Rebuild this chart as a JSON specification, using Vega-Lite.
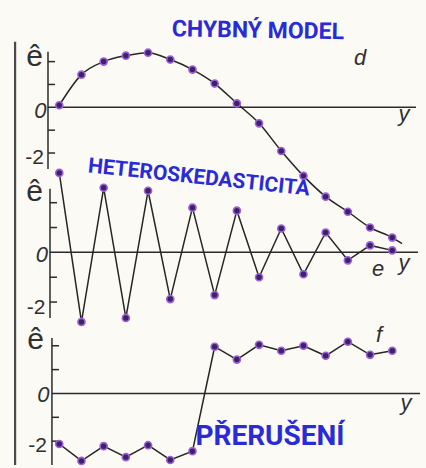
{
"$schema":"https://vega.github.io/schema/vega-lite/v6.json",
"width":426,"height":468,"padding":0,
"autosize":{"type":"fit","contains":"padding"},
"background":"#fbfaf5",
"config":{"view":{"stroke":null}},
"datasets":{
"dpts":[{"i":0,"v":0.09,"dot":true},{"i":1,"v":1.43,"dot":true},{"i":2,"v":2.0,"dot":true},{"i":3,"v":2.26,"dot":true},{"i":4,"v":2.39,"dot":true},{"i":5,"v":2.09,"dot":true},{"i":6,"v":1.65,"dot":true},{"i":7,"v":1.04,"dot":true},{"i":8,"v":0.17,"dot":true},{"i":9,"v":-0.70,"dot":true},{"i":10,"v":-1.91,"dot":true},{"i":11,"v":-3.0,"dot":true},{"i":12,"v":-3.91,"dot":true},{"i":13,"v":-4.57,"dot":true},{"i":14,"v":-5.26,"dot":true},{"i":15,"v":-5.70,"dot":true},{"i":15.44,"v":-5.96,"dot":false}],
"epts":[{"i":0,"v":3.2,"dot":true},{"i":1,"v":-2.8,"dot":true},{"i":2,"v":2.6,"dot":true},{"i":3,"v":-2.64,"dot":true},{"i":4,"v":2.48,"dot":true},{"i":5,"v":-1.88,"dot":true},{"i":6,"v":1.8,"dot":true},{"i":7,"v":-1.72,"dot":true},{"i":8,"v":1.68,"dot":true},{"i":9,"v":-1.0,"dot":true},{"i":10,"v":0.96,"dot":true},{"i":11,"v":-0.88,"dot":true},{"i":12,"v":0.8,"dot":true},{"i":13,"v":-0.32,"dot":true},{"i":14,"v":0.28,"dot":true},{"i":15,"v":0.08,"dot":true}],
"fpts":[{"i":-0.19,"v":-2.08,"dot":false},{"i":0,"v":-2.12,"dot":true},{"i":1,"v":-2.83,"dot":true},{"i":2,"v":-2.21,"dot":true},{"i":3,"v":-2.67,"dot":true},{"i":4,"v":-2.17,"dot":true},{"i":5,"v":-2.79,"dot":true},{"i":6,"v":-2.42,"dot":true},{"i":7,"v":1.96,"dot":true},{"i":8,"v":1.42,"dot":true},{"i":9,"v":2.04,"dot":true},{"i":10,"v":1.79,"dot":true},{"i":11,"v":2.0,"dot":true},{"i":12,"v":1.58,"dot":true},{"i":13,"v":2.17,"dot":true},{"i":14,"v":1.62,"dot":true},{"i":15,"v":1.79,"dot":true}],
"rules":[
{"p":"border","x":-1.99,"x2":-1.99,"y":2.87,"y2":-15.65},
{"p":"d","x":-0.508,"x2":-0.508,"y":2.43,"y2":-2.7},
{"p":"d","x":-0.508,"x2":-0.19,"y":2,"y2":2},
{"p":"d","x":-0.508,"x2":-0.19,"y":1,"y2":1},
{"p":"d","x":-0.508,"x2":-0.19,"y":-1,"y2":-1},
{"p":"d","x":-0.508,"x2":-0.19,"y":-2,"y2":-2},
{"p":"d","x":-0.508,"x2":16.07,"y":0,"y2":0},
{"p":"e","x":-0.418,"x2":-0.418,"y":2.56,"y2":-2.64},
{"p":"e","x":-0.418,"x2":-0.1,"y":2,"y2":2},
{"p":"e","x":-0.418,"x2":-0.1,"y":1,"y2":1},
{"p":"e","x":-0.418,"x2":-0.1,"y":-1,"y2":-1},
{"p":"e","x":-0.418,"x2":-0.1,"y":-2,"y2":-2},
{"p":"e","x":-0.418,"x2":16.16,"y":0,"y2":0},
{"p":"f","x":-0.33,"x2":-0.33,"y":2.33,"y2":-3.0},
{"p":"f","x":-0.33,"x2":-0.01,"y":2,"y2":2},
{"p":"f","x":-0.33,"x2":-0.01,"y":1,"y2":1},
{"p":"f","x":-0.33,"x2":-0.01,"y":-1,"y2":-1},
{"p":"f","x":-0.33,"x2":-0.01,"y":-2,"y2":-2},
{"p":"f","x":-0.33,"x2":16.25,"y":0,"y2":0}
],
"txt":[
{"p":"d","s":"it","t":"d","x":13.55,"y":2.17},
{"p":"d","s":"it","t":"y","x":15.53,"y":-0.30},
{"p":"d","s":"it","t":"0","x":-0.85,"y":-0.17},
{"p":"d","s":"up","t":"-2","x":-1.116,"y":-2.22},
{"p":"d","s":"hat","t":"ê","x":-1.116,"y":2.22},
{"p":"d","s":"note","t":"CHYBNÝ MODEL","x":8.95,"y":3.35},
{"p":"e","s":"it","t":"e","x":14.36,"y":-0.68},
{"p":"e","s":"it","t":"y","x":15.53,"y":-0.44},
{"p":"e","s":"it","t":"0","x":-0.78,"y":-0.12},
{"p":"e","s":"up","t":"-2","x":-1.048,"y":-2.24},
{"p":"e","s":"hat","t":"ê","x":-1.116,"y":2.44},
{"p":"e","s":"note","t":"HETEROSKEDASTICITA","x":6.29,"y":3.0},
{"p":"f","s":"it","t":"f","x":14.40,"y":2.46},
{"p":"f","s":"it","t":"y","x":15.62,"y":-0.38},
{"p":"f","s":"it","t":"0","x":-0.72,"y":-0.08},
{"p":"f","s":"up","t":"-2","x":-0.98,"y":-2.2},
{"p":"f","s":"hat","t":"ê","x":-1.07,"y":2.25},
{"p":"f","s":"note","t":"PŘERUŠENÍ","x":9.49,"y":-1.83}
]
},
"resolve":{"scale":{"y":"independent"}},
"layer":[
{"layer":[
 {"data":{"name":"rules"},"transform":[{"filter":"datum.p=='border'"}],"mark":{"type":"rule","color":"#4a4a4a","strokeWidth":2.2},
  "encoding":{"x":{"field":"x","type":"quantitative","scale":{"domain":[-2.67,16.52],"nice":false,"zero":false},"axis":null},"x2":{"field":"x2"},"y":{"field":"y","type":"quantitative","scale":{"domain":[-15.652,4.696],"nice":false,"zero":false},"axis":null},"y2":{"field":"y2"}}},
 {"data":{"name":"rules"},"transform":[{"filter":"datum.p=='d'"}],"mark":{"type":"rule","color":"#2b2b2b","strokeWidth":1.5},
  "encoding":{"x":{"field":"x","type":"quantitative","scale":{"domain":[-2.67,16.52],"nice":false,"zero":false},"axis":null},"x2":{"field":"x2"},"y":{"field":"y","type":"quantitative","scale":{"domain":[-15.652,4.696],"nice":false,"zero":false},"axis":null},"y2":{"field":"y2"}}},
 {"data":{"name":"dpts"},"mark":{"type":"line","color":"#262626","strokeWidth":1.5,"interpolate":"monotone"},
  "encoding":{"x":{"field":"i","type":"quantitative","scale":{"domain":[-2.67,16.52],"nice":false,"zero":false},"axis":null},"y":{"field":"v","type":"quantitative","scale":{"domain":[-15.652,4.696],"nice":false,"zero":false},"axis":null}}},
 {"data":{"name":"dpts"},"transform":[{"filter":"datum.dot"}],"mark":{"type":"point","filled":true,"fill":"#3a2462","stroke":"#a05ee0","strokeWidth":1.6,"size":50,"opacity":1},
  "encoding":{"x":{"field":"i","type":"quantitative","scale":{"domain":[-2.67,16.52],"nice":false,"zero":false},"axis":null},"y":{"field":"v","type":"quantitative","scale":{"domain":[-15.652,4.696],"nice":false,"zero":false},"axis":null}}},
 {"data":{"name":"txt"},"transform":[{"filter":"datum.p=='d' && datum.s=='it'"}],"mark":{"type":"text","font":"Liberation Sans","fontStyle":"italic","fontSize":22,"color":"#303030","baseline":"middle","align":"center"},
  "encoding":{"x":{"field":"x","type":"quantitative","scale":{"domain":[-2.67,16.52],"nice":false,"zero":false},"axis":null},"y":{"field":"y","type":"quantitative","scale":{"domain":[-15.652,4.696],"nice":false,"zero":false},"axis":null},"text":{"field":"t"}}},
 {"data":{"name":"txt"},"transform":[{"filter":"datum.p=='d' && datum.s=='up'"}],"mark":{"type":"text","font":"Liberation Sans","fontSize":21,"color":"#303030","baseline":"middle","align":"center"},
  "encoding":{"x":{"field":"x","type":"quantitative","scale":{"domain":[-2.67,16.52],"nice":false,"zero":false},"axis":null},"y":{"field":"y","type":"quantitative","scale":{"domain":[-15.652,4.696],"nice":false,"zero":false},"axis":null},"text":{"field":"t"}}},
 {"data":{"name":"txt"},"transform":[{"filter":"datum.p=='d' && datum.s=='hat'"}],"mark":{"type":"text","font":"Liberation Sans","fontSize":30,"color":"#303030","baseline":"middle","align":"center"},
  "encoding":{"x":{"field":"x","type":"quantitative","scale":{"domain":[-2.67,16.52],"nice":false,"zero":false},"axis":null},"y":{"field":"y","type":"quantitative","scale":{"domain":[-15.652,4.696],"nice":false,"zero":false},"axis":null},"text":{"field":"t"}}},
 {"data":{"name":"txt"},"transform":[{"filter":"datum.p=='d' && datum.s=='note'"}],"mark":{"type":"text","font":"Roboto","fontWeight":"bold","fontSize":23,"color":"#2a2bd8","baseline":"middle","align":"center","angle":1},
  "encoding":{"x":{"field":"x","type":"quantitative","scale":{"domain":[-2.67,16.52],"nice":false,"zero":false},"axis":null},"y":{"field":"y","type":"quantitative","scale":{"domain":[-15.652,4.696],"nice":false,"zero":false},"axis":null},"text":{"field":"t"}}}
]},
{"layer":[
 {"data":{"name":"rules"},"transform":[{"filter":"datum.p=='e'"}],"mark":{"type":"rule","color":"#2b2b2b","strokeWidth":1.5},
  "encoding":{"x":{"field":"x","type":"quantitative","scale":{"domain":[-2.67,16.52],"nice":false,"zero":false},"axis":null},"x2":{"field":"x2"},"y":{"field":"y","type":"quantitative","scale":{"domain":[-8.56,10.16],"nice":false,"zero":false},"axis":null},"y2":{"field":"y2"}}},
 {"data":{"name":"epts"},"mark":{"type":"line","color":"#262626","strokeWidth":1.5},
  "encoding":{"x":{"field":"i","type":"quantitative","scale":{"domain":[-2.67,16.52],"nice":false,"zero":false},"axis":null},"y":{"field":"v","type":"quantitative","scale":{"domain":[-8.56,10.16],"nice":false,"zero":false},"axis":null}}},
 {"data":{"name":"epts"},"transform":[{"filter":"datum.dot"}],"mark":{"type":"point","filled":true,"fill":"#3a2462","stroke":"#a05ee0","strokeWidth":1.6,"size":50,"opacity":1},
  "encoding":{"x":{"field":"i","type":"quantitative","scale":{"domain":[-2.67,16.52],"nice":false,"zero":false},"axis":null},"y":{"field":"v","type":"quantitative","scale":{"domain":[-8.56,10.16],"nice":false,"zero":false},"axis":null}}},
 {"data":{"name":"txt"},"transform":[{"filter":"datum.p=='e' && datum.s=='it'"}],"mark":{"type":"text","font":"Liberation Sans","fontStyle":"italic","fontSize":22,"color":"#303030","baseline":"middle","align":"center"},
  "encoding":{"x":{"field":"x","type":"quantitative","scale":{"domain":[-2.67,16.52],"nice":false,"zero":false},"axis":null},"y":{"field":"y","type":"quantitative","scale":{"domain":[-8.56,10.16],"nice":false,"zero":false},"axis":null},"text":{"field":"t"}}},
 {"data":{"name":"txt"},"transform":[{"filter":"datum.p=='e' && datum.s=='up'"}],"mark":{"type":"text","font":"Liberation Sans","fontSize":21,"color":"#303030","baseline":"middle","align":"center"},
  "encoding":{"x":{"field":"x","type":"quantitative","scale":{"domain":[-2.67,16.52],"nice":false,"zero":false},"axis":null},"y":{"field":"y","type":"quantitative","scale":{"domain":[-8.56,10.16],"nice":false,"zero":false},"axis":null},"text":{"field":"t"}}},
 {"data":{"name":"txt"},"transform":[{"filter":"datum.p=='e' && datum.s=='hat'"}],"mark":{"type":"text","font":"Liberation Sans","fontSize":30,"color":"#303030","baseline":"middle","align":"center"},
  "encoding":{"x":{"field":"x","type":"quantitative","scale":{"domain":[-2.67,16.52],"nice":false,"zero":false},"axis":null},"y":{"field":"y","type":"quantitative","scale":{"domain":[-8.56,10.16],"nice":false,"zero":false},"axis":null},"text":{"field":"t"}}},
 {"data":{"name":"txt"},"transform":[{"filter":"datum.p=='e' && datum.s=='note'"}],"mark":{"type":"text","font":"Roboto","fontWeight":"bold","fontSize":21,"color":"#2a2bd8","baseline":"middle","align":"center","angle":6},
  "encoding":{"x":{"field":"x","type":"quantitative","scale":{"domain":[-2.67,16.52],"nice":false,"zero":false},"axis":null},"y":{"field":"y","type":"quantitative","scale":{"domain":[-8.56,10.16],"nice":false,"zero":false},"axis":null},"text":{"field":"t"}}}
]},
{"layer":[
 {"data":{"name":"rules"},"transform":[{"filter":"datum.p=='f'"}],"mark":{"type":"rule","color":"#2b2b2b","strokeWidth":1.5},
  "encoding":{"x":{"field":"x","type":"quantitative","scale":{"domain":[-2.67,16.52],"nice":false,"zero":false},"axis":null},"x2":{"field":"x2"},"y":{"field":"y","type":"quantitative","scale":{"domain":[-3.0,16.5],"nice":false,"zero":false},"axis":null},"y2":{"field":"y2"}}},
 {"data":{"name":"fpts"},"mark":{"type":"line","color":"#262626","strokeWidth":1.5},
  "encoding":{"x":{"field":"i","type":"quantitative","scale":{"domain":[-2.67,16.52],"nice":false,"zero":false},"axis":null},"y":{"field":"v","type":"quantitative","scale":{"domain":[-3.0,16.5],"nice":false,"zero":false},"axis":null}}},
 {"data":{"name":"fpts"},"transform":[{"filter":"datum.dot"}],"mark":{"type":"point","filled":true,"fill":"#3a2462","stroke":"#a05ee0","strokeWidth":1.6,"size":50,"opacity":1},
  "encoding":{"x":{"field":"i","type":"quantitative","scale":{"domain":[-2.67,16.52],"nice":false,"zero":false},"axis":null},"y":{"field":"v","type":"quantitative","scale":{"domain":[-3.0,16.5],"nice":false,"zero":false},"axis":null}}},
 {"data":{"name":"txt"},"transform":[{"filter":"datum.p=='f' && datum.s=='it'"}],"mark":{"type":"text","font":"Liberation Sans","fontStyle":"italic","fontSize":22,"color":"#303030","baseline":"middle","align":"center"},
  "encoding":{"x":{"field":"x","type":"quantitative","scale":{"domain":[-2.67,16.52],"nice":false,"zero":false},"axis":null},"y":{"field":"y","type":"quantitative","scale":{"domain":[-3.0,16.5],"nice":false,"zero":false},"axis":null},"text":{"field":"t"}}},
 {"data":{"name":"txt"},"transform":[{"filter":"datum.p=='f' && datum.s=='up'"}],"mark":{"type":"text","font":"Liberation Sans","fontSize":21,"color":"#303030","baseline":"middle","align":"center"},
  "encoding":{"x":{"field":"x","type":"quantitative","scale":{"domain":[-2.67,16.52],"nice":false,"zero":false},"axis":null},"y":{"field":"y","type":"quantitative","scale":{"domain":[-3.0,16.5],"nice":false,"zero":false},"axis":null},"text":{"field":"t"}}},
 {"data":{"name":"txt"},"transform":[{"filter":"datum.p=='f' && datum.s=='hat'"}],"mark":{"type":"text","font":"Liberation Sans","fontSize":30,"color":"#303030","baseline":"middle","align":"center"},
  "encoding":{"x":{"field":"x","type":"quantitative","scale":{"domain":[-2.67,16.52],"nice":false,"zero":false},"axis":null},"y":{"field":"y","type":"quantitative","scale":{"domain":[-3.0,16.5],"nice":false,"zero":false},"axis":null},"text":{"field":"t"}}},
 {"data":{"name":"txt"},"transform":[{"filter":"datum.p=='f' && datum.s=='note'"}],"mark":{"type":"text","font":"Roboto","fontWeight":"bold","fontSize":28,"color":"#2a2bd8","baseline":"middle","align":"center","angle":0},
  "encoding":{"x":{"field":"x","type":"quantitative","scale":{"domain":[-2.67,16.52],"nice":false,"zero":false},"axis":null},"y":{"field":"y","type":"quantitative","scale":{"domain":[-3.0,16.5],"nice":false,"zero":false},"axis":null},"text":{"field":"t"}}}
]}
]
}
